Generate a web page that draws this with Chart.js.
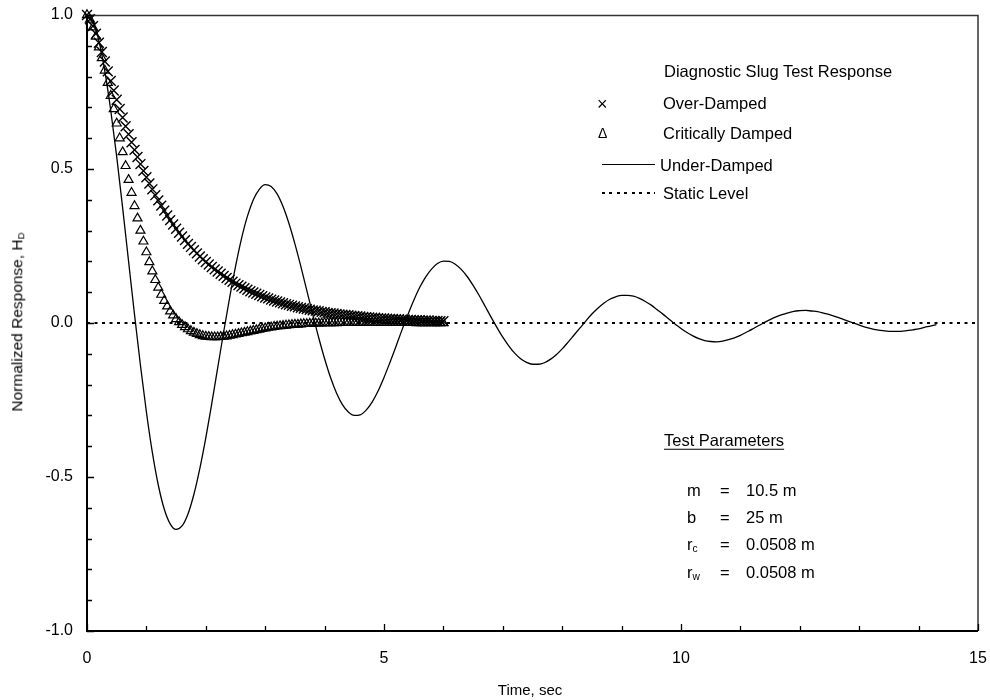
<!DOCTYPE html>
<html>
<head>
<meta charset="utf-8">
<script src="https://cdn.jsdelivr.net/npm/chart.js@4.4.1/dist/chart.umd.min.js"></script>
<style>
  html, body { margin: 0; padding: 0; background: #fff; }
  #wrap { position: relative; width: 990px; height: 700px; font-family: "Liberation Sans", Arial, sans-serif; color: #000; }
  #c { position: absolute; left: 0; top: 0; }
  .t { position: absolute; white-space: nowrap; line-height: 1; transform: translateY(-50%); }
  .lg { font-size: 16.5px; }
  .pr { font-size: 16.5px; }
  sub { font-size: 62%; vertical-align: -0.25em; line-height: 0; }
</style>
</head>
<body>
<div id="wrap">
  <canvas id="c" width="990" height="700"></canvas>

  <div class="t lg" style="left:664px; top:71px;">Diagnostic Slug Test Response</div>
  <div class="t" style="left:597px; top:104px; font-size:18px;">×</div>
  <div class="t" style="left:598px; top:133px; font-size:14px;">Δ</div>
  <div class="t lg" style="left:663px; top:103px;">Over-Damped</div>
  <div class="t lg" style="left:663px; top:133px;">Critically Damped</div>
  <div style="position:absolute; left:602px; top:164px; width:53px; border-top:1.5px solid #000;"></div>
  <div class="t lg" style="left:660px; top:165px;">Under-Damped</div>
  <div style="position:absolute; left:602px; top:192px; width:53px; height:2px; background:repeating-linear-gradient(90deg,#000 0 3px,transparent 3px 7.5px);"></div>
  <div class="t lg" style="left:663px; top:193px;">Static Level</div>

  <div class="t pr" style="left:664px; top:440px; text-decoration:underline; text-underline-offset:3px;">Test Parameters</div>
  <div class="t pr" style="left:687px; top:490px;">m</div>
  <div class="t pr" style="left:720px; top:490px;">=</div>
  <div class="t pr" style="left:746px; top:490px;">10.5 m</div>
  <div class="t pr" style="left:687px; top:517px;">b</div>
  <div class="t pr" style="left:720px; top:517px;">=</div>
  <div class="t pr" style="left:746px; top:517px;">25 m</div>
  <div class="t pr" style="left:687px; top:544px;">r<sub>c</sub></div>
  <div class="t pr" style="left:720px; top:544px;">=</div>
  <div class="t pr" style="left:746px; top:544px;">0.0508 m</div>
  <div class="t pr" style="left:687px; top:572px;">r<sub>w</sub></div>
  <div class="t pr" style="left:720px; top:572px;">=</div>
  <div class="t pr" style="left:746px; top:572px;">0.0508 m</div>

  <div class="t" style="left:530px; top:689px; font-size:15px; transform:translate(-50%,-50%);">Time, sec</div>
  <div class="t" style="left:17px; top:322px; font-size:15.5px; transform:translate(-50%,-50%) rotate(-90deg);">Normalized Response, H<sub>D</sub></div>
</div>

<script>
// ---- data ----
const markerTimes = [0,0.05,0.1,0.15,0.2,0.25,0.3,0.35,0.4,0.45,
  0.5,0.55,0.6,0.65,0.7,0.75,0.8,0.85,0.9,0.95,
  1,1.05,1.1,1.15,1.2,1.25,1.3,1.35,1.4,1.45,
  1.5,1.55,1.6,1.65,1.7,1.75,1.8,1.85,1.9,1.95,
  2,2.05,2.1,2.15,2.2,2.25,2.3,2.35,2.4,2.45,
  2.5,2.55,2.6,2.65,2.7,2.75,2.8,2.85,2.9,2.95,
  3,3.05,3.1,3.15,3.2,3.25,3.3,3.35,3.4,3.45,
  3.5,3.55,3.6,3.65,3.7,3.75,3.8,3.85,3.9,3.95,
  4,4.05,4.1,4.15,4.2,4.25,4.3,4.35,4.4,4.45,
  4.5,4.55,4.6,4.65,4.7,4.75,4.8,4.85,4.9,4.95,
  5,5.05,5.1,5.15,5.2,5.25,5.3,5.35,5.4,5.45,
  5.5,5.55,5.6,5.65,5.7,5.75,5.8,5.85,5.9,5.95,
  6];

const overDamped = [1.000,0.986,0.964,0.939,0.910,0.880,0.849,0.817,0.786,0.755,
  0.725,0.695,0.667,0.639,0.613,0.587,0.562,0.539,0.516,0.494,
  0.473,0.453,0.434,0.415,0.398,0.381,0.365,0.349,0.334,0.320,
  0.306,0.293,0.281,0.269,0.257,0.247,0.236,0.226,0.216,0.207,
  0.198,0.190,0.182,0.174,0.167,0.160,0.153,0.146,0.140,0.134,
  0.128,0.123,0.118,0.113,0.108,0.103,0.099,0.095,0.091,0.087,
  0.083,0.080,0.076,0.073,0.070,0.067,0.064,0.061,0.059,0.056,
  0.054,0.051,0.049,0.047,0.045,0.043,0.041,0.040,0.038,0.036,
  0.035,0.033,0.032,0.031,0.029,0.028,0.027,0.026,0.025,0.024,
  0.023,0.022,0.021,0.020,0.019,0.018,0.017,0.017,0.016,0.015,
  0.015,0.014,0.013,0.013,0.012,0.012,0.011,0.011,0.010,0.010,
  0.009,0.009,0.009,0.008,0.008,0.008,0.007,0.007,0.007,0.006,
  0.006];

const criticallyDamped = [1.000,0.985,0.960,0.930,0.895,0.860,0.820,0.780,0.738,0.695,
  0.648,0.600,0.555,0.510,0.465,0.423,0.380,0.340,0.300,0.265,
  0.230,0.198,0.168,0.140,0.115,0.092,0.072,0.054,0.038,0.025,
  0.013,0.003,-0.006,-0.013,-0.020,-0.026,-0.031,-0.035,-0.039,-0.042,
  -0.044,-0.045,-0.046,-0.046,-0.046,-0.045,-0.044,-0.043,-0.041,-0.039,
  -0.037,-0.035,-0.033,-0.031,-0.029,-0.027,-0.025,-0.023,-0.021,-0.019,
  -0.017,-0.015,-0.014,-0.012,-0.011,-0.010,-0.009,-0.008,-0.007,-0.006,
  -0.005,-0.005,-0.004,-0.003,-0.003,-0.002,-0.002,-0.001,-0.001,-0.001,
  0.000,0.000,0.000,0.000,0.000,0.001,0.001,0.001,0.001,0.001,
  0.001,0.001,0.001,0.001,0.001,0.001,0.001,0.001,0.001,0.001,
  0.001,0.001,0.001,0.001,0.001,0.001,0.001,0.001,0.001,0.001,
  0.001,0.000,0.000,0.000,0.000,0.000,0.000,0.000,0.000,0.000,
  0.000];

const lineTimes = [0,0.1,0.2,0.3,0.4,0.5,0.6,0.7,0.8,0.9,
  1,1.1,1.2,1.3,1.4,1.5,1.6,1.7,1.8,1.9,
  2,2.1,2.2,2.3,2.4,2.5,2.6,2.7,2.8,2.9,
  3,3.1,3.2,3.3,3.4,3.5,3.6,3.7,3.8,3.9,
  4,4.1,4.2,4.3,4.4,4.5,4.6,4.7,4.8,4.9,
  5,5.1,5.2,5.3,5.4,5.5,5.6,5.7,5.8,5.9,
  6,6.1,6.2,6.3,6.4,6.5,6.6,6.7,6.8,6.9,
  7,7.1,7.2,7.3,7.4,7.5,7.6,7.7,7.8,7.9,
  8,8.1,8.2,8.3,8.4,8.5,8.6,8.7,8.8,8.9,
  9,9.1,9.2,9.3,9.4,9.5,9.6,9.7,9.8,9.9,
  10,10.1,10.2,10.3,10.4,10.5,10.6,10.7,10.8,10.9,
  11,11.1,11.2,11.3,11.4,11.5,11.6,11.7,11.8,11.9,
  12,12.1,12.2,12.3,12.4,12.5,12.6,12.7,12.8,12.9,
  13,13.1,13.2,13.3,13.4,13.5,13.6,13.7,13.8,13.9,
  14,14.1,14.2,14.3];

const underDamped = [1.000,0.978,0.916,0.818,0.690,0.540,0.374,0.200,0.027,-0.138,
  -0.289,-0.420,-0.526,-0.604,-0.652,-0.670,-0.659,-0.620,-0.556,-0.472,
  -0.373,-0.262,-0.146,-0.030,0.081,0.183,0.273,0.346,0.400,0.434,
  0.449,0.443,0.419,0.378,0.323,0.257,0.184,0.106,0.028,-0.047,
  -0.116,-0.177,-0.227,-0.265,-0.289,-0.300,-0.298,-0.283,-0.257,-0.221,
  -0.177,-0.128,-0.077,-0.024,0.026,0.073,0.115,0.149,0.175,0.193,
  0.201,0.200,0.191,0.174,0.151,0.122,0.090,0.055,0.020,-0.014,
  -0.046,-0.074,-0.098,-0.116,-0.128,-0.134,-0.134,-0.129,-0.118,-0.103,
  -0.084,-0.062,-0.039,-0.016,0.007,0.029,0.048,0.064,0.077,0.085,
  0.090,0.090,0.087,0.080,0.070,0.058,0.043,0.028,0.012,-0.003,
  -0.018,-0.031,-0.042,-0.051,-0.057,-0.060,-0.061,-0.059,-0.054,-0.048,
  -0.040,-0.030,-0.020,-0.009,0.001,0.011,0.020,0.027,0.033,0.038,
  0.040,0.041,0.039,0.037,0.032,0.027,0.021,0.014,0.007,0.000,
  -0.007,-0.013,-0.018,-0.022,-0.025,-0.027,-0.027,-0.027,-0.025,-0.022,
  -0.019,-0.014,-0.010,-0.005];

const staticLevelTimes = [0, 15];
const staticLevel = [0, 0];

const xTickLabels = [0, 5, 10, 15];
const yTickLabels = ["-1.0", "-0.5", "0.0", "0.5", "1.0"];

// ---- build ----
const pts = (xs, ys) => xs.map((x, i) => ({ x: x, y: ys[i] }));

const frame = {
  id: 'frame',
  afterDraw(chart) {
    const ctx = chart.ctx, a = chart.chartArea;
    const xs = chart.scales.x, ys = chart.scales.y;
    ctx.save();
    ctx.strokeStyle = '#333';
    ctx.lineWidth = 1.5;
    ctx.beginPath();
    ctx.moveTo(a.left, a.top + 0.5);
    ctx.lineTo(a.right, a.top + 0.5);
    ctx.lineTo(a.right, a.bottom);
    ctx.stroke();
    ctx.strokeStyle = '#000';
    ctx.lineWidth = 2;
    ctx.beginPath();
    ctx.moveTo(a.left, a.top);
    ctx.lineTo(a.left, a.bottom);
    ctx.lineTo(a.right, a.bottom);
    ctx.stroke();
    ctx.lineWidth = 1.3;
    ctx.beginPath();
    xs.ticks.forEach(t => {
      const p = Math.round(xs.getPixelForValue(t.value)) + 0.5;
      const r = Math.round(t.value);
      const major = Math.abs(t.value - r) < 1e-9 && xTickLabels.includes(r);
      const len = major ? 7 : 5;
      ctx.moveTo(p, a.bottom);
      ctx.lineTo(p, a.bottom - len);
    });
    ys.ticks.forEach(t => {
      const p = Math.round(ys.getPixelForValue(t.value)) + 0.5;
      const major = Math.abs(t.value * 2 - Math.round(t.value * 2)) < 1e-9;
      const len = major ? 7 : 5;
      ctx.moveTo(a.left, p);
      ctx.lineTo(a.left + len, p);
    });
    ctx.stroke();
    ctx.restore();
  }
};

new Chart(document.getElementById('c'), {
  type: 'scatter',
  data: {
    datasets: [
      {
        label: 'Static Level',
        data: pts(staticLevelTimes, staticLevel),
        showLine: true, pointRadius: 0, borderColor: '#000', borderWidth: 2,
        borderDash: [3, 4.5], fill: false
      },
      {
        label: 'Under-Damped',
        data: pts(lineTimes, underDamped),
        showLine: true, pointRadius: 0, borderColor: '#000', borderWidth: 1.3,
        cubicInterpolationMode: 'monotone', fill: false
      },
      {
        label: 'Critically Damped',
        data: pts(markerTimes, criticallyDamped),
        showLine: false, pointStyle: 'triangle', pointRadius: 5.2,
        borderColor: '#000', backgroundColor: 'rgba(0,0,0,0)', pointBorderWidth: 1.2,
        clip: false
      },
      {
        label: 'Over-Damped',
        data: pts(markerTimes, overDamped),
        showLine: false, pointStyle: 'crossRot', pointRadius: 7,
        borderColor: '#000', pointBorderWidth: 1.4,
        clip: false
      }
    ]
  },
  options: {
    responsive: false,
    animation: false,
    devicePixelRatio: 1,
    layout: { padding: { left: 0, right: 12, top: 15, bottom: 0 } },
    plugins: { legend: { display: false }, tooltip: { enabled: false } },
    scales: {
      x: {
        type: 'linear', min: 0, max: 15,
        afterFit: s => { s.height = 69; s.paddingLeft = 0; s.paddingRight = 0; },
        grid: { display: false },
        border: { display: false },
        ticks: {
          stepSize: 1, autoSkip: false, maxRotation: 0, padding: 10,
          color: '#000', font: { family: 'Liberation Sans', size: 16 },
          callback: v => {
            const r = Math.round(v);
            return (Math.abs(v - r) < 1e-9 && xTickLabels.includes(r)) ? String(r) : '';
          }
        }
      },
      y: {
        type: 'linear', min: -1, max: 1,
        afterFit: s => { s.width = 87; s.paddingTop = 0; s.paddingBottom = 0; },
        grid: { display: false },
        border: { display: false },
        ticks: {
          stepSize: 0.1, autoSkip: false, padding: 6,
          color: '#000', font: { family: 'Liberation Sans', size: 16 },
          callback: v => {
            const r = Math.round(v * 2);
            if (Math.abs(v * 2 - r) > 1e-9) return '';
            return yTickLabels[r + 2];
          }
        }
      }
    }
  },
  plugins: [frame]
});
</script>
</body>
</html>
